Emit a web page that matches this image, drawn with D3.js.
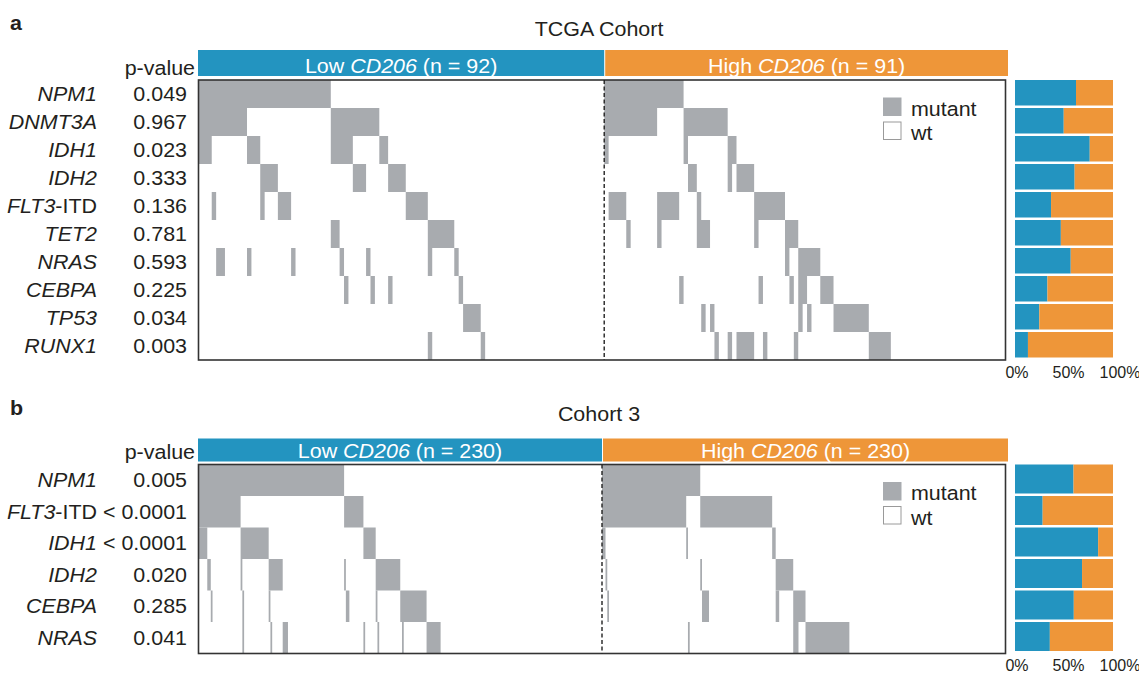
<!DOCTYPE html>
<html>
<head>
<meta charset="utf-8">
<script src="https://cdn.jsdelivr.net/npm/d3@7"></script>
<style>
  body { margin: 0; background: #fff; }
  text { font-family: "Liberation Sans", Arial, Helvetica, sans-serif; fill: #231f20; }
</style>
</head>
<body>
<svg id="chart" width="1139" height="673"></svg>
<script>
// ---- TCGA cohort ----
const tcgaGenes = ["NPM1", "DNMT3A", "IDH1", "IDH2", "FLT3-ITD", "TET2", "NRAS", "CEBPA", "TP53", "RUNX1"];
const tcgaPValues = ["0.049", "0.967", "0.023", "0.333", "0.136", "0.781", "0.593", "0.225", "0.034", "0.003"];
const tcgaGroupN = [92, 91];
// mutated patients per gene, as inclusive [first, last] runs of patient order
const tcgaLowRuns = [
  [[0, 29]],
  [[0, 10], [30, 40]],
  [[0, 2], [11, 13], [30, 34], [41, 42]],
  [[14, 17], [35, 37], [43, 46]],
  [[3, 3], [14, 14], [18, 20], [47, 51]],
  [[30, 31], [52, 57]],
  [[4, 5], [11, 11], [21, 21], [32, 32], [38, 38], [52, 52], [58, 58]],
  [[33, 33], [39, 39], [43, 43], [59, 59]],
  [[60, 63]],
  [[52, 52], [64, 64]]
];
const tcgaHighRuns = [
  [[0, 17]],
  [[0, 11], [18, 27]],
  [[0, 0], [18, 18], [28, 29]],
  [[19, 20], [28, 28], [30, 33]],
  [[1, 4], [12, 16], [21, 21], [34, 40]],
  [[5, 5], [12, 12], [21, 23], [34, 34], [41, 43]],
  [[41, 41], [44, 48]],
  [[17, 17], [35, 35], [42, 42], [44, 45], [49, 51]],
  [[22, 22], [24, 24], [44, 44], [46, 46], [52, 59]],
  [[25, 25], [28, 28], [30, 33], [36, 36], [43, 43], [60, 64]]
];

// ---- Cohort 3 ----
const cohort3Genes = ["NPM1", "FLT3-ITD", "IDH1", "IDH2", "CEBPA", "NRAS"];
const cohort3PValues = ["0.005", "< 0.0001", "< 0.0001", "0.020", "0.285", "0.041"];
const cohort3GroupN = [230, 230];
const cohort3LowRuns = [
  [[0, 82]],
  [[0, 23], [83, 93]],
  [[0, 4], [24, 39], [94, 100]],
  [[5, 6], [24, 24], [40, 47], [83, 83], [101, 114]],
  [[7, 7], [25, 25], [40, 40], [84, 85], [101, 101], [115, 129]],
  [[25, 25], [41, 41], [48, 50], [94, 94], [102, 102], [116, 116], [130, 137]]
];
const cohort3HighRuns = [
  [[0, 55]],
  [[0, 47], [56, 96]],
  [[0, 1], [48, 48], [97, 98]],
  [[2, 2], [56, 56], [99, 108]],
  [[3, 3], [57, 60], [99, 100], [109, 115]],
  [[49, 49], [109, 111], [116, 140]]
];

const groupLabels = ["Low", "High"];
const markerGene = "CD206";
const legendLabels = ["mutant", "wt"];
const pctTicks = [0, 0.5, 1];
const pctTickLabels = ["0%", "50%", "100%"];

const colors = { low: "#2394c0", high: "#ee9639", mutant: "#a8abaf", border: "#333", wtStroke: "#9a9a9a" };

const panels = [
  {
    letter: "a", title: "TCGA Cohort", genes: tcgaGenes, pvals: tcgaPValues, n: tcgaGroupN,
    runs: [tcgaLowRuns, tcgaHighRuns],
    letterY: 30, titleY: 36, header: [50, 76], headerBase: 72.5, pHeadY: 75, grid: [80, 360], tickY: 378
  },
  {
    letter: "b", title: "Cohort 3", genes: cohort3Genes, pvals: cohort3PValues, n: cohort3GroupN,
    runs: [cohort3LowRuns, cohort3HighRuns],
    letterY: 415, titleY: 421, header: [438.5, 461.5], headerBase: 457.5, pHeadY: 459, grid: [464.5, 653.5], tickY: 671
  }
];

const svg = d3.select("#chart");
const FS = 19.5;
const SX = 1.1; // text is set slightly wide
const gridX = [198.5, 1005.5];
const pct = d3.scaleLinear().domain([0, 1]).range([1015, 1113]);
const pctLabel = d3.scaleLinear().domain([0, 1]).range([1017, 1120]);

const count = runs => d3.sum(runs, r => r[1] - r[0] + 1);

// text anchored at (x, y), widened horizontally by SX
function label(parent, x, y, anchor) {
  return parent.append("g").attr("transform", `translate(${x},${y}) scale(${SX},1)`)
    .append("text").attr("font-size", FS).attr("text-anchor", anchor || "start");
}

panels.forEach(p => {
  const g = svg.append("g");
  const total = p.n[0] + p.n[1];
  const col = d3.scaleLinear().domain([0, total]).range(gridX);
  const row = d3.scaleBand().domain(p.genes).range(p.grid);
  const divX = col(p.n[0]);

  // panel letter and title
  label(g, 10, p.letterY).attr("font-weight", "bold").text(p.letter);
  label(g, 599, p.titleY, "middle").text(p.title);

  // group header bars
  const hdr = [
    { x0: gridX[0] - 0.5, x1: divX, color: colors.low, i: 0 },
    { x0: divX + 1, x1: gridX[1] + 2.5, color: colors.high, i: 1 }
  ];
  hdr.forEach(h => {
    g.append("rect").attr("x", h.x0).attr("y", p.header[0])
      .attr("width", h.x1 - h.x0).attr("height", p.header[1] - p.header[0]).attr("fill", h.color);
    const t = label(g, (h.x0 + h.x1) / 2, p.headerBase, "middle").style("fill", "#fff");
    t.append("tspan").text(groupLabels[h.i] + " ");
    t.append("tspan").attr("font-style", "italic").text(markerGene);
    t.append("tspan").text(` (n = ${p.n[h.i]})`);
  });

  // row labels
  label(g, 195, p.pHeadY, "end").text("p-value");
  p.genes.forEach((gene, i) => {
    const cy = row(gene) + row.bandwidth() / 2 + FS * 0.36;
    const parts = gene.split("-");
    const t = label(g, 97, cy, "end");
    t.append("tspan").attr("font-style", "italic").text(parts[0]);
    if (parts.length > 1) t.append("tspan").text("-" + parts.slice(1).join("-"));
    label(g, 187, cy, "end").text(p.pvals[i]);
  });

  // mutation cells
  p.runs.forEach((groupRuns, gi) => {
    const offset = gi === 0 ? 0 : p.n[0];
    groupRuns.forEach((runs, ri) => {
      const gene = p.genes[ri];
      g.selectAll(null).data(runs).join("rect")
        .attr("x", d => col(offset + d[0]))
        .attr("width", d => col(offset + d[1] + 1) - col(offset + d[0]))
        .attr("y", row(gene))
        .attr("height", row.bandwidth())
        .attr("fill", colors.mutant);
    });
  });

  // grid frame and group divider
  g.append("rect").attr("x", gridX[0]).attr("y", p.grid[0])
    .attr("width", gridX[1] - gridX[0]).attr("height", p.grid[1] - p.grid[0])
    .attr("fill", "none").attr("stroke", colors.border).attr("stroke-width", 1.6);
  g.append("line").attr("x1", divX).attr("x2", divX).attr("y1", p.grid[0]).attr("y2", p.grid[1])
    .attr("stroke", "#222").attr("stroke-width", 1.4).attr("stroke-dasharray", "4,2.5");

  // legend
  const lx = 883, ly = p.grid[0] + 17.5, ls = 18.5;
  g.append("rect").attr("x", lx).attr("y", ly).attr("width", ls).attr("height", ls).attr("fill", colors.mutant);
  g.append("rect").attr("x", lx + 0.5).attr("y", ly + 24.5).attr("width", ls - 1).attr("height", ls - 1)
    .attr("fill", "#fff").attr("stroke", colors.wtStroke).attr("stroke-width", 1);
  legendLabels.forEach((lab, i) => {
    label(g, lx + 28, ly + 18 + i * 24.5).text(lab);
  });

  // low vs high share of mutation rate per gene
  const barH = row.bandwidth() - 2.5;
  p.genes.forEach((gene, i) => {
    const lowRate = count(p.runs[0][i]) / p.n[0];
    const highRate = count(p.runs[1][i]) / p.n[1];
    const frac = lowRate / (lowRate + highRate);
    g.append("rect").attr("x", pct(0)).attr("y", row(gene)).attr("width", pct(frac) - pct(0))
      .attr("height", barH).attr("fill", colors.low);
    g.append("rect").attr("x", pct(frac)).attr("y", row(gene)).attr("width", pct(1) - pct(frac))
      .attr("height", barH).attr("fill", colors.high);
  });
  pctTicks.forEach((v, i) => {
    g.append("text").attr("x", pctLabel(v)).attr("y", p.tickY).attr("font-size", 16)
      .attr("text-anchor", "middle").text(pctTickLabels[i]);
  });
});
</script>
</body>
</html>
